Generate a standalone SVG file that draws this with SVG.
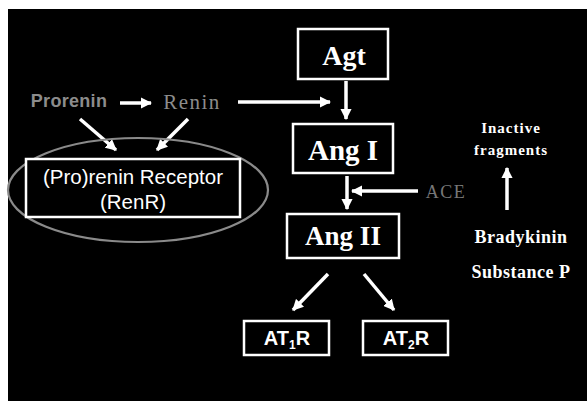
<svg xmlns="http://www.w3.org/2000/svg" width="587" height="401" viewBox="0 0 587 401">
  <style>
    .box { fill: #000; stroke: #fff; stroke-width: 2.5; }
    .serif { font-family: "Liberation Serif", "Times New Roman", serif; font-weight: bold; fill: #fff; text-anchor: middle; }
    .sans { font-family: "Liberation Sans", Arial, sans-serif; font-weight: bold; fill: #fff; text-anchor: middle; }
    .grey { fill: #8c8c8c; }
    .plain { font-weight: normal; }
    .line { stroke: #fff; stroke-width: 3.5; fill: none; marker-end: url(#head); }
  </style>
  <defs>
    <marker id="head" viewBox="0 0 10 10" refX="9" refY="5" markerWidth="3.2" markerHeight="3.2" orient="auto" markerUnits="strokeWidth">
      <path d="M0,0 L10,5 L0,10 Z" fill="#fff"/>
    </marker>
  </defs>

  <!-- page margin and slide background -->
  <rect x="0" y="0" width="587" height="401" fill="#fff"/>
  <rect x="8" y="9" width="579" height="392" fill="#000"/>

  <g id="connectors">
    <line class="line" x1="120" y1="103" x2="151" y2="103"/>
    <line class="line" x1="238" y1="102" x2="330" y2="102"/>
    <line class="line" x1="80" y1="119" x2="116" y2="150"/>
    <line class="line" x1="188" y1="119" x2="157" y2="150"/>
    <line class="line" x1="346" y1="81" x2="346" y2="119"/>
    <line class="line" x1="347" y1="176" x2="347" y2="209"/>
    <line class="line" x1="418" y1="191" x2="352" y2="191"/>
    <line class="line" x1="328" y1="274" x2="293" y2="310"/>
    <line class="line" x1="364" y1="274" x2="394" y2="310"/>
    <line class="line" x1="507" y1="210" x2="507" y2="168"/>
  </g>

  <g id="renr-ellipse">
    <ellipse cx="138" cy="190" rx="130" ry="52" fill="none" stroke="#8a8a8a" stroke-width="2.2"/>
  </g>

  <g id="prorenin">
    <text class="sans grey" x="69" y="107" font-size="18" letter-spacing="0.3">Prorenin</text>
  </g>
  <g id="renin">
    <text class="serif grey plain" x="192" y="109" font-size="21" letter-spacing="1.5">Renin</text>
  </g>

  <g id="renr">
    <rect class="box" x="26" y="159" width="214" height="58"/>
    <text class="sans plain" x="133" y="184" font-size="20.5">(Pro)renin Receptor</text>
    <text class="sans plain" x="133" y="209" font-size="20.5">(RenR)</text>
  </g>

  <g id="agt">
    <rect class="box" x="298" y="29" width="90" height="50"/>
    <text class="serif" x="344" y="65" font-size="28">Agt</text>
  </g>

  <g id="ang1">
    <rect class="box" x="293" y="124" width="100" height="49"/>
    <text class="serif" x="343" y="160" font-size="29">Ang I</text>
  </g>

  <g id="ace">
    <text class="serif plain" x="446" y="198" font-size="18" letter-spacing="1.5" style="fill:#777">ACE</text>
  </g>

  <g id="ang2">
    <rect class="box" x="287" y="214" width="112" height="44"/>
    <text class="serif" x="343" y="245" font-size="27">Ang II</text>
  </g>

  <g id="at1r">
    <rect class="box" x="244" y="321" width="85" height="34"/>
    <text class="sans" x="287" y="345" font-size="20">AT<tspan font-size="12" dy="4">1</tspan><tspan dy="-4">R</tspan></text>
  </g>

  <g id="at2r">
    <rect class="box" x="363" y="321" width="85" height="34"/>
    <text class="sans" x="406" y="345" font-size="20">AT<tspan font-size="12" dy="4">2</tspan><tspan dy="-4">R</tspan></text>
  </g>

  <g id="inactive-fragments">
    <text class="serif" x="511" y="133" font-size="15" letter-spacing="1">Inactive</text>
    <text class="serif" x="511" y="155" font-size="15" letter-spacing="1">fragments</text>
  </g>

  <g id="bradykinin">
    <text class="serif" x="521" y="243" font-size="18" letter-spacing="0.5">Bradykinin</text>
  </g>
  <g id="substance-p">
    <text class="serif" x="521" y="278" font-size="18" letter-spacing="0.5">Substance P</text>
  </g>
</svg>
